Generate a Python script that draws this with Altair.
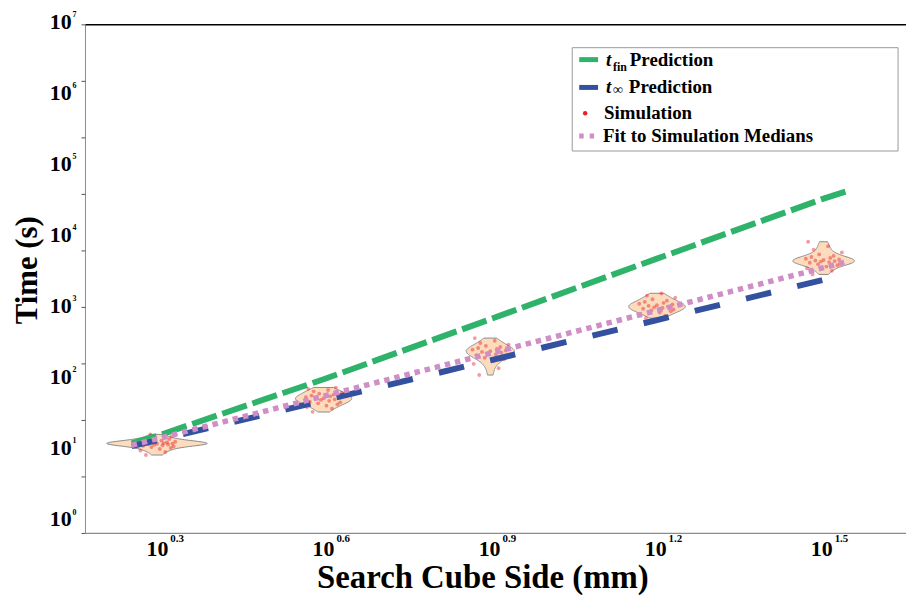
import altair as alt
import pandas as pd
import math

SERIF = "Liberation Serif"

# ---------------- data ----------------
cube_sides = [2, 4, 8, 16, 32]
sim_times = [
    [8.9, 9.8, 10.3, 10.8, 11.2, 11.5, 11.8, 12.0, 12.2, 12.4, 12.5, 12.7, 12.8, 12.9,
     13.0, 13.1, 13.2, 13.4, 13.5, 13.7, 13.9, 14.2, 14.5, 14.9, 15.4, 16.2, 17.3],
    [36, 40, 42, 44, 46, 47.5, 49, 50, 51.5, 53, 54, 55, 56, 57, 58, 59.5, 61, 63, 65,
     67, 70, 73, 76, 79],
    [119, 148, 170, 186, 198, 208, 217, 225, 232, 239, 245, 251, 257, 263, 270, 277,
     285, 294, 305, 318, 335, 360, 393],
    [748, 810, 860, 900, 935, 965, 990, 1015, 1040, 1065, 1090, 1115, 1140, 1165, 1195,
     1230, 1270, 1320, 1380, 1450, 1550, 1671],
    [3090, 3470, 3750, 3980, 4150, 4300, 4410, 4510, 4600, 4680, 4760, 4840, 4930,
     5020, 5130, 5270, 5420, 5620, 5900, 6300, 6900, 7700, 8900],
]
# horizontal jitter of the simulation dots (log10 units)
sim_jitter = [-0.020, 0.015, -0.030, 0.005, 0.025, -0.010, 0.030, -0.025, 0.010,
              -0.005, 0.020, -0.015, 0.000, 0.028, -0.032, 0.012, -0.022, 0.018,
              -0.008, 0.033, -0.018, 0.008, -0.028, 0.022, -0.003, 0.026, -0.012]

line_sides = [1.8, 2, 4, 8, 16, 32, 35.2]
t_fin_pred = [13.0, 16.5, 103.5, 724, 5150, 36000, 45700]
t_inf_pred = [11.9, 14.3, 52, 191, 705, 2590, 3050]
fit_medians = [12.2, 15.0, 60, 240, 960, 3840, 4646]

x_tick_exps = ["0.3", "0.6", "0.9", "1.2", "1.5"]
y_tick_exps = ["0", "1", "2", "3", "4", "5", "6", "7"]
legend_labels = ["Prediction", "Prediction", "Simulation", "Fit to Simulation Medians"]
x_title = "Search Cube Side (mm)"
y_title = "Time (s)"

# ---------------- tables ----------------
rows = []
for s, times in zip(cube_sides, sim_times):
    for i, t in enumerate(times):
        rows.append({"size": s, "time": t, "jit": sim_jitter[i % len(sim_jitter)]})
sim_df = pd.DataFrame(rows)
ext_df = pd.DataFrame({
    "size": cube_sides,
    "lo": [math.log10(min(t)) for t in sim_times],
    "hi": [math.log10(max(t)) for t in sim_times],
})

lines_df = pd.DataFrame({
    "size": line_sides * 3,
    "time": t_fin_pred + t_inf_pred + fit_medians,
    "series": ["fin"] * len(line_sides) + ["inf"] * len(line_sides) + ["fit"] * len(line_sides),
})
xlab_df = pd.DataFrame({"e": x_tick_exps})
ylab_df = pd.DataFrame({"e": y_tick_exps})
one = pd.DataFrame({"k": [0]})

# ---------------- layout ----------------
W, H = 826, 512
YMIN_LOG = -0.1538
xscale = alt.Scale(type="log", domain=[1.4855, 45.08], nice=False)
yscale = alt.Scale(type="log", domain=[10 ** YMIN_LOG, 1e7], nice=False)
ytick_df = pd.DataFrame({"v": [10 ** (7 - j * (7 - YMIN_LOG) / 9) for j in range(10)]})

GREEN, BLUE, PINK, RED = "#2fb36a", "#33519e", "#cf8ec6", "#e8202a"
AXIS_GRAY = "#8c8c8c"

K = 0.013
violins = alt.Chart(sim_df).transform_calculate(
    logt="log(datum.time)/LN10"
).transform_density(
    "logt", as_=["logt", "density"], groupby=["size"], steps=600
).transform_lookup(
    lookup="size", from_=alt.LookupData(data=ext_df, key="size", fields=["lo", "hi"])
).transform_filter(
    "datum.logt >= datum.lo - 0.003 && datum.logt <= datum.hi + 0.003"
).transform_calculate(
    t="pow(10, datum.logt)",
    xl="datum.size * pow(10, -%f * datum.density)" % K,
    xr="datum.size * pow(10, %f * datum.density)" % K,
).mark_area(orient="horizontal", fill="#fcdcbd", stroke="#8a8a8a", strokeWidth=1).encode(
    y=alt.Y("t:Q", scale=yscale, axis=None),
    x=alt.X("xl:Q", scale=xscale, axis=None),
    x2="xr:Q",
    detail="size:N",
)

points = alt.Chart(sim_df).transform_calculate(
    xj="datum.size * pow(10, datum.jit)"
).mark_circle(size=15, color=RED, opacity=0.45).encode(
    x=alt.X("xj:Q", scale=xscale, axis=None),
    y=alt.Y("time:Q", scale=yscale, axis=None),
)


def series_line(name, color, dash, width):
    return alt.Chart(lines_df).transform_filter(
        alt.datum.series == name
    ).mark_line(color=color, strokeDash=dash, strokeWidth=width).encode(
        x=alt.X("size:Q", scale=xscale, axis=None),
        y=alt.Y("time:Q", scale=yscale, axis=None),
        order="size:Q",
    )


green = series_line("fin", GREEN, [26, 6], 6)
blue = series_line("inf", BLUE, [26, 27], 6)
pink = series_line("fit", PINK, [5.5, 5], 5.5)

# ---- axis decorations ----
y_domain = alt.Chart(one).mark_rule(color=AXIS_GRAY, strokeWidth=1).encode(
    x=alt.value(0), y=alt.value(0), y2=alt.value(H))
x_domain = alt.Chart(one).mark_rule(color=AXIS_GRAY, strokeWidth=1.2).encode(
    x=alt.value(0), x2=alt.value(W), y=alt.value(H))
top_border = alt.Chart(one).mark_rule(color="black", strokeWidth=1.5).encode(
    x=alt.value(0), x2=alt.value(W), y=alt.value(0))
y_ticks = alt.Chart(ytick_df).mark_rule(color="#555", strokeWidth=1).encode(
    y=alt.Y("v:Q", scale=yscale, axis=None), x=alt.value(-4), x2=alt.value(0))

ylab = alt.Chart(ylab_df).transform_calculate(v="pow(10, toNumber(datum.e))").mark_text(
    text="10", font=SERIF, fontSize=22, fontWeight="bold", align="right",
    baseline="middle", dy=-3, color="black"
).encode(y=alt.Y("v:Q", scale=yscale, axis=None), x=alt.value(-14))
yexp = alt.Chart(ylab_df).transform_calculate(v="pow(10, toNumber(datum.e))").mark_text(
    font=SERIF, fontSize=8, fontWeight="bold", align="left", baseline="middle",
    dy=-10, color="black"
).encode(y=alt.Y("v:Q", scale=yscale, axis=None), x=alt.value(-13), text="e:N")

xlab = alt.Chart(xlab_df).transform_calculate(v="pow(10, toNumber(datum.e))").mark_text(
    text="10", font=SERIF, fontSize=22, fontWeight="bold", align="center",
    baseline="middle", dx=1, color="black"
).encode(x=alt.X("v:Q", scale=xscale, axis=None), y=alt.value(H + 16))
xexp = alt.Chart(xlab_df).transform_calculate(v="pow(10, toNumber(datum.e))").mark_text(
    font=SERIF, fontSize=11, fontWeight="bold", align="left", baseline="middle",
    dx=14, color="black"
).encode(x=alt.X("v:Q", scale=xscale, axis=None), y=alt.value(H + 6), text="e:N")

y_title_mark = alt.Chart(one).mark_text(
    text=y_title, font=SERIF, fontSize=31, fontWeight="bold", angle=270,
    align="center", baseline="middle", color="black"
).encode(x=alt.value(-58), y=alt.value(247))
x_title_mark = alt.Chart(one).mark_text(
    text=x_title, font=SERIF, fontSize=33, fontWeight="bold",
    align="center", baseline="middle", color="black"
).encode(x=alt.value(400), y=alt.value(H + 45))


def ltxt(s, x, y, size=19, style="normal"):
    return alt.Chart(one).mark_text(
        text=s, font=SERIF, fontSize=size, fontStyle=style, fontWeight="bold",
        align="left", baseline="middle", color="black"
    ).encode(x=alt.value(x), y=alt.value(y))


def lrule(color, y, dash=None):
    kw = dict(color=color, strokeWidth=5)
    if dash:
        kw["strokeDash"] = dash
    return alt.Chart(one).mark_rule(**kw).encode(
        x=alt.value(497), x2=alt.value(516 if not dash else 513), y=alt.value(y))


legend = [
    alt.Chart(one).mark_rect(fill="white", stroke="#999", strokeWidth=1).encode(
        x=alt.value(490), x2=alt.value(818), y=alt.value(23), y2=alt.value(127)),
    lrule(GREEN, 35), lrule(BLUE, 63), lrule(PINK, 112, [4.5, 6]),
    alt.Chart(one).mark_circle(size=20, color=RED, opacity=1).encode(
        x=alt.value(503), y=alt.value(89)),
    ltxt("t", 524, 35, style="italic"), ltxt("fin", 531, 42, size=12),
    ltxt(legend_labels[0], 548, 35),
    ltxt("t", 524, 63, style="italic"), ltxt("∞", 531, 66, size=14),
    ltxt(legend_labels[1], 547, 63),
    ltxt(legend_labels[2], 522, 89),
    ltxt(legend_labels[3], 521, 112),
]

chart = alt.layer(
    violins, points, green, blue, pink,
    y_domain, x_domain, top_border, y_ticks, ylab, yexp, xlab, xexp,
    y_title_mark, x_title_mark, *legend
).properties(
    width=W, height=H,
    autosize=alt.AutoSizeParams(type="none"),
    padding={"left": 78, "top": 15, "right": 2, "bottom": 60},
).configure_view(stroke=None)

chart.save("out.html", embed_options={"renderer": "svg", "actions": False})
